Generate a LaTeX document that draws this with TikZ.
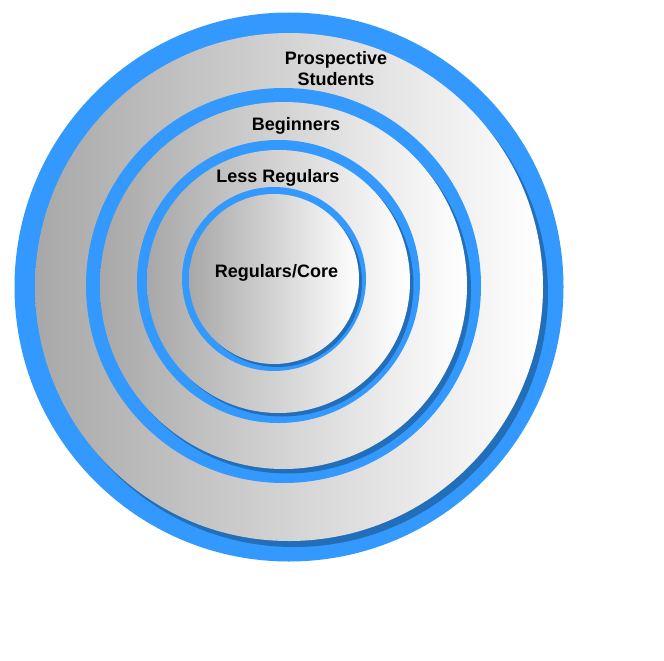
\documentclass[tikz,border=0pt]{standalone}
\usepackage{fontspec}
\setmainfont{Liberation Sans}
\definecolor{ringblue}{RGB}{51,153,255}
\definecolor{shadowblue}{RGB}{35,110,184}
\definecolor{discgray}{RGB}{168,168,168}
\begin{document}
\begin{tikzpicture}[x=1pt,y=-1pt,
  ring/.style={fill=ringblue},
  shadowdisc/.style={fill=shadowblue},
  disc/.style={left color=discgray,right color=white},
  lbl/.style={font=\fontsize{18}{20.7}\selectfont\bfseries, align=center, inner sep=0pt, text=black}]
\fill[white] (0,0) rectangle (664,661);
\useasboundingbox (0,0) rectangle (664,661);
% circle 1
\path[ring] (289,287) circle[radius=274.5pt];
\path[shadowdisc] (294,293) circle[radius=254pt];
\shade[disc] (289,287) circle[radius=254pt];
% circle 2
\path[ring] (283.5,285.5) circle[radius=197.5pt];
\path[shadowdisc] (287.5,290) circle[radius=183.5pt];
\shade[disc] (283.5,285.5) circle[radius=183.5pt];
% circle 3
\path[ring] (278.5,281.5) circle[radius=141.5pt];
\path[shadowdisc] (282,285) circle[radius=131.5pt];
\shade[disc] (278.5,281.5) circle[radius=131.5pt];
% circle 4
\path[ring] (274,279) circle[radius=92pt];
\path[shadowdisc] (277,282) circle[radius=85pt];
\shade[disc] (274,279) circle[radius=85pt];
% labels
\node[lbl] (prospective) at (336,68.8) {Prospective\\Students};
\node[lbl, anchor=base] (beginners) at (296,130.7) {Beginners};
\node[lbl, anchor=base] (lessregulars) at (278,182.7) {Less Regulars};
\node[lbl, anchor=base] (core) at (276.5,277) {Regulars/Core};
\end{tikzpicture}
\end{document}
